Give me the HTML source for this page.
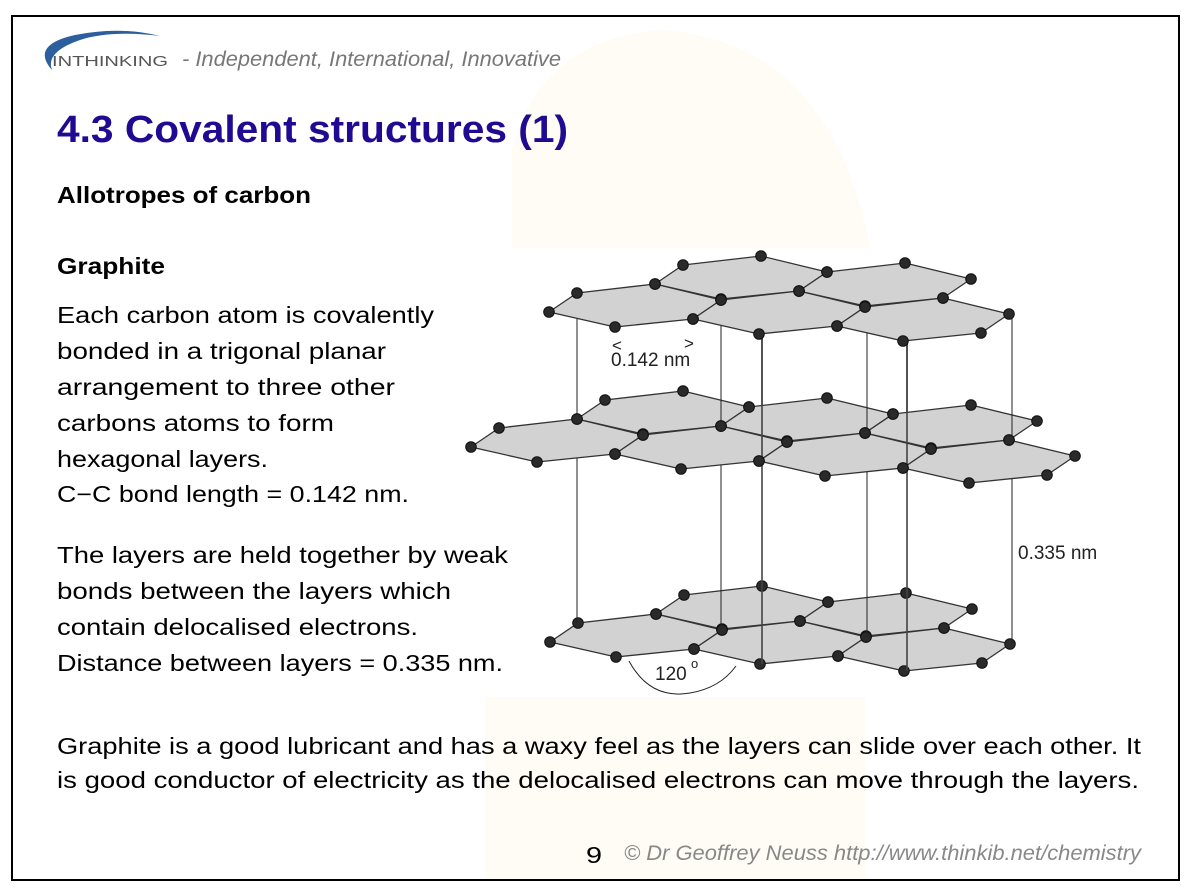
<!DOCTYPE html>
<html><head><meta charset="utf-8"><style>html,body{margin:0;padding:0;background:#fff}svg{display:block}</style></head>
<body>
<svg width="1193" height="894" viewBox="0 0 1193 894" xmlns="http://www.w3.org/2000/svg">
<defs>
<polygon id="hp" points="0,0 28,-19 106,-28 172,-12 144,7 66,15" fill="#d2d2d2" stroke="#333" stroke-width="1.3" stroke-linejoin="round"/>
<g id="ha" fill="#2a2a2a" stroke="#111" stroke-width="1">
<circle cx="0" cy="0" r="5.3"/><circle cx="28" cy="-19" r="5.3"/><circle cx="106" cy="-28" r="5.3"/>
<circle cx="172" cy="-12" r="5.3"/><circle cx="144" cy="7" r="5.3"/><circle cx="66" cy="15" r="5.3"/>
</g>
</defs>
<rect x="0" y="0" width="1193" height="894" fill="#fff"/>
<path d="M512,248 L512,150 Q540,40 660,30 Q830,40 870,248 Z" fill="#fefcf4"/>
<rect x="485" y="697" width="380" height="182" fill="#fefcf4"/>
<rect x="12" y="16" width="1167" height="864" fill="none" stroke="#000" stroke-width="2"/>
<path d="M52,70 Q30,45 75,35 Q120,26 160,36 Q110,30 80,40 Q45,52 52,70 Z" fill="#2d5f9e"/>
<text x="52" y="66" font-family="Liberation Sans, sans-serif" font-size="15" fill="#555" textLength="116" lengthAdjust="spacingAndGlyphs">INTHINKING</text>
<text x="182" y="66" font-family="Liberation Sans, sans-serif" font-size="21" font-style="italic" fill="#777" textLength="379" lengthAdjust="spacingAndGlyphs">- Independent, International, Innovative</text>
<text x="57" y="142" font-family="Liberation Sans, sans-serif" font-size="38" font-weight="bold" fill="#200a92" textLength="511" lengthAdjust="spacingAndGlyphs">4.3 Covalent structures (1)</text>
<g font-family="Liberation Sans, sans-serif" font-size="23" fill="#000">
<text x="57" y="203" font-weight="bold" textLength="254" lengthAdjust="spacingAndGlyphs">Allotropes of carbon</text>
<text x="57" y="274" font-weight="bold" textLength="108" lengthAdjust="spacingAndGlyphs">Graphite</text>
<text x="57" y="323" textLength="377" lengthAdjust="spacingAndGlyphs">Each carbon atom is covalently</text>
<text x="57" y="359" textLength="329" lengthAdjust="spacingAndGlyphs">bonded in a trigonal planar</text>
<text x="57" y="395" textLength="338" lengthAdjust="spacingAndGlyphs">arrangement to three other</text>
<text x="57" y="431" textLength="277" lengthAdjust="spacingAndGlyphs">carbons atoms to form</text>
<text x="57" y="467" textLength="211" lengthAdjust="spacingAndGlyphs">hexagonal layers.</text>
<text x="57" y="502" textLength="352" lengthAdjust="spacingAndGlyphs">C−C bond length = 0.142 nm.</text>
<text x="57" y="563" textLength="451" lengthAdjust="spacingAndGlyphs">The layers are held together by weak</text>
<text x="57" y="599" textLength="394" lengthAdjust="spacingAndGlyphs">bonds between the layers which</text>
<text x="57" y="635" textLength="361" lengthAdjust="spacingAndGlyphs">contain delocalised electrons.</text>
<text x="57" y="671" textLength="446" lengthAdjust="spacingAndGlyphs">Distance between layers = 0.335 nm.</text>
<text x="57" y="754" textLength="1084" lengthAdjust="spacingAndGlyphs">Graphite is a good lubricant and has a waxy feel as the layers can slide over each other. It</text>
<text x="57" y="788" textLength="1082" lengthAdjust="spacingAndGlyphs">is good conductor of electricity as the delocalised electrons can move through the layers.</text>
<text x="586" y="863" textLength="16" lengthAdjust="spacingAndGlyphs">9</text>
</g>
<text x="624" y="860" font-family="Liberation Sans, sans-serif" font-size="21" font-style="italic" fill="#888" textLength="517" lengthAdjust="spacingAndGlyphs">© Dr Geoffrey Neuss http://www.thinkib.net/chemistry</text>
<use href="#hp" x="550" y="642"/><use href="#hp" x="656" y="614"/><use href="#hp" x="694" y="649"/><use href="#hp" x="800" y="621"/><use href="#hp" x="838" y="656"/>
<use href="#ha" x="550" y="642"/><use href="#ha" x="656" y="614"/><use href="#ha" x="694" y="649"/><use href="#ha" x="800" y="621"/><use href="#ha" x="838" y="656"/>
<g stroke="#222" stroke-width="1">
<line x1="577" y1="293" x2="577" y2="623"/>
<line x1="721" y1="300" x2="721" y2="630"/>
<line x1="762" y1="335" x2="762" y2="664" stroke-width="1.6" stroke="#444"/>
<line x1="867" y1="306" x2="867" y2="637"/>
<line x1="907" y1="341" x2="907" y2="671" stroke-width="1.6" stroke="#444"/>
<line x1="1012" y1="313" x2="1012" y2="643"/>
</g>
<use href="#hp" x="471" y="447"/><use href="#hp" x="577" y="419"/><use href="#hp" x="615" y="454"/><use href="#hp" x="721" y="426"/><use href="#hp" x="759" y="461"/><use href="#hp" x="865" y="433"/><use href="#hp" x="903" y="468"/>
<g stroke="#222" stroke-width="1">
<line x1="577" y1="293" x2="577" y2="419"/>
<line x1="721" y1="300" x2="721" y2="426"/>
<line x1="762" y1="335" x2="762" y2="463" stroke-width="1.6" stroke="#444"/>
<line x1="867" y1="306" x2="867" y2="433"/>
<line x1="907" y1="341" x2="907" y2="468" stroke-width="1.6" stroke="#444"/>
<line x1="1012" y1="313" x2="1012" y2="440"/>
</g>
<use href="#ha" x="471" y="447"/><use href="#ha" x="577" y="419"/><use href="#ha" x="615" y="454"/><use href="#ha" x="721" y="426"/><use href="#ha" x="759" y="461"/><use href="#ha" x="865" y="433"/><use href="#ha" x="903" y="468"/>
<use href="#hp" x="549" y="312"/><use href="#hp" x="655" y="284"/><use href="#hp" x="693" y="319"/><use href="#hp" x="799" y="291"/><use href="#hp" x="837" y="326"/>
<use href="#ha" x="549" y="312"/><use href="#ha" x="655" y="284"/><use href="#ha" x="693" y="319"/><use href="#ha" x="799" y="291"/><use href="#ha" x="837" y="326"/>
<g font-family="Liberation Sans, sans-serif" fill="#222">
<text x="612" y="351" font-size="17">&lt;</text>
<text x="684" y="349" font-size="17">&gt;</text>
<text x="611" y="366" font-size="19">0.142 nm</text>
<text x="1018" y="559" font-size="19">0.335 nm</text>
<text x="655" y="680" font-size="19">120</text>
<text x="691" y="668" font-size="13">o</text>
</g>
<path d="M629,661 Q650,700 690,693 Q720,688 736,666" fill="none" stroke="#222" stroke-width="1"/>
</svg>
</body></html>
